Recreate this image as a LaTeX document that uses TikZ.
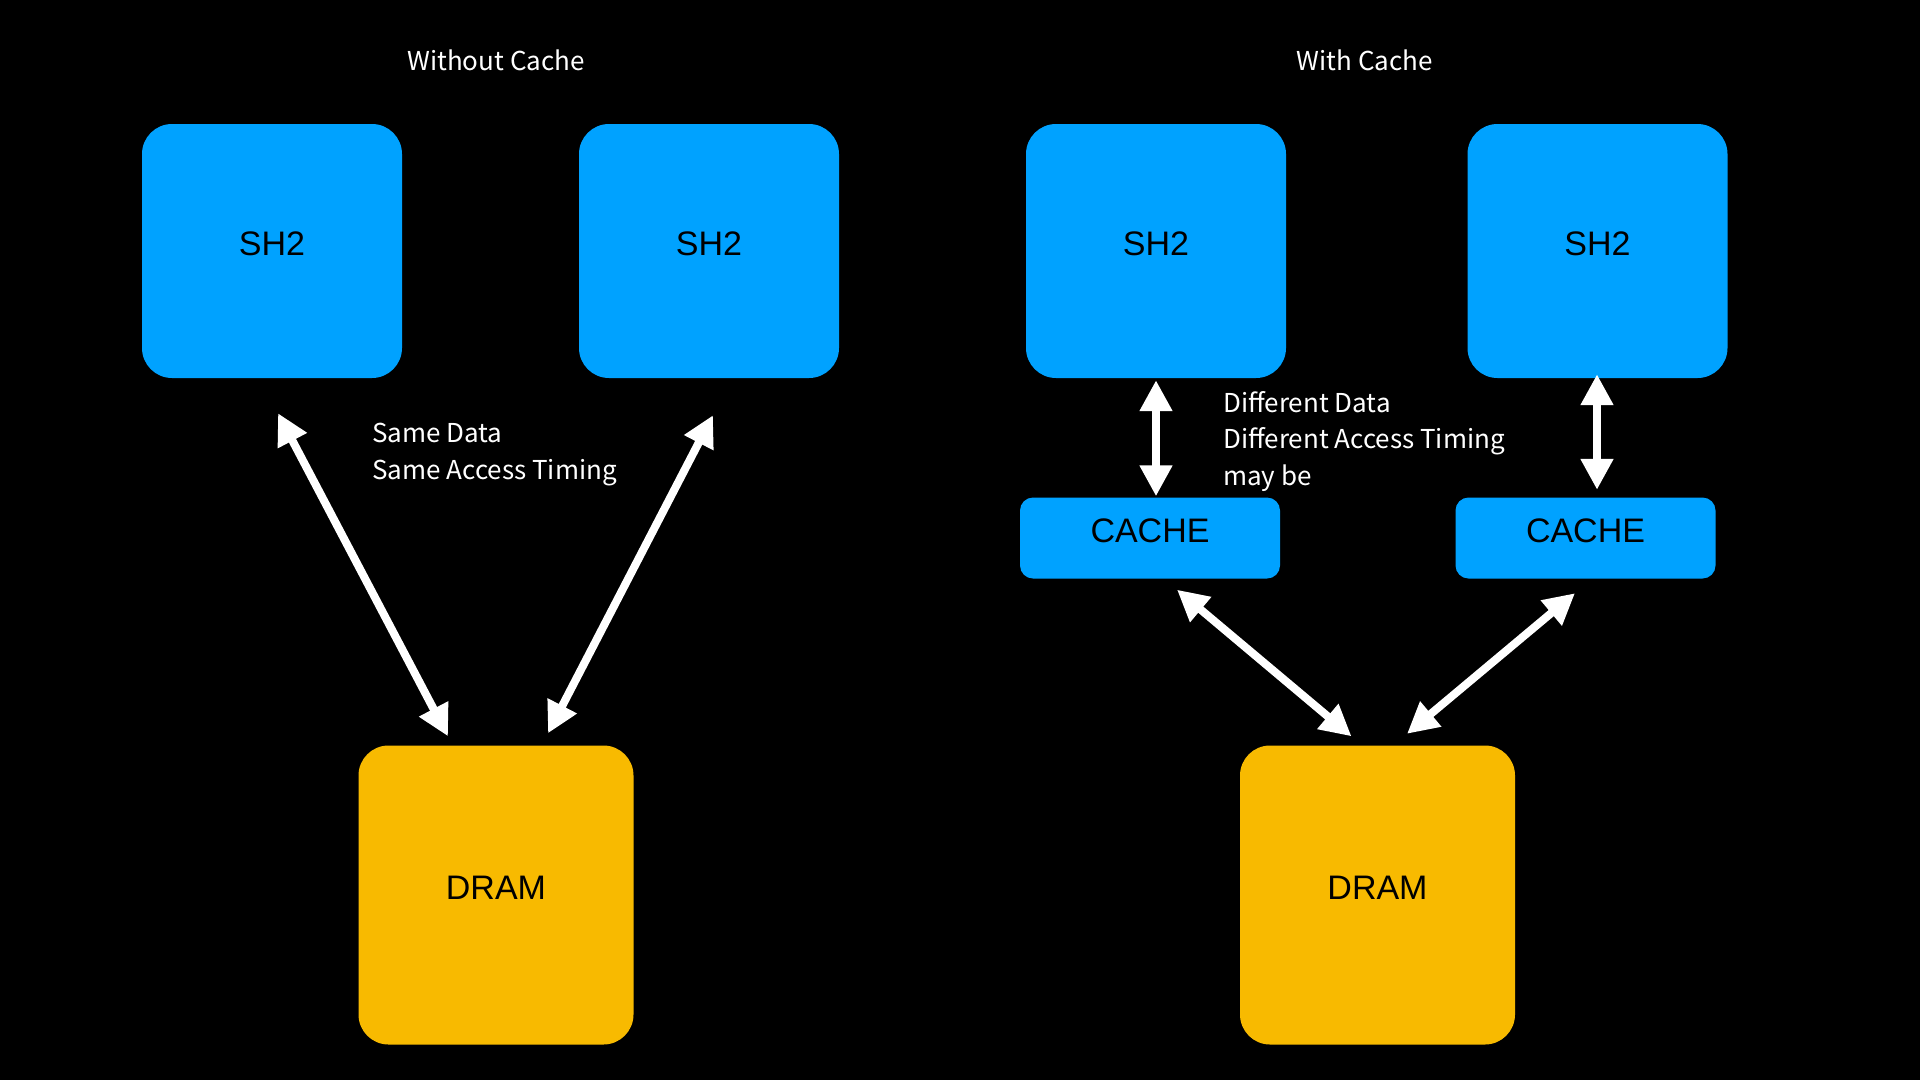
\documentclass[tikz,border=0pt]{standalone}
\usepackage{fontspec}
\setmainfont{Liberation Sans}
\newfontfamily\notefont{Noto Sans CJK JP}
\usepackage{tikz}
\usetikzlibrary{calc,arrows.meta}
\definecolor{chipblue}{RGB}{0,162,255}
\definecolor{dramgold}{RGB}{248,186,0}

\begin{document}
\begin{tikzpicture}[x=1pt,y=-1pt,
        box/.style={rounded corners=30pt, inner sep=0pt, text=black, font=\fontsize{34}{34}\selectfont, text depth=15pt},
        cpu/.style={box, fill=chipblue, minimum width=260pt, minimum height=254pt},
        cachebox/.style={box, fill=chipblue, minimum width=260pt, minimum height=81pt, rounded corners=13pt},
        drambox/.style={box, fill=dramgold, minimum width=275pt, minimum height=299pt},
        title/.style={text=white, font=\notefont\fontsize{26}{26}\selectfont},
        note/.style={text=white, font=\notefont\fontsize{26}{36.5}\selectfont, inner sep=0pt, align=left, anchor=base west},
        link/.style={white, line width=8pt, {Triangle[length=31pt,width=31pt]}-{Triangle[length=31pt,width=31pt]}}]
        \fill[black] (0,0) rectangle (1920,1080);
        \node[title] (ttla) at (496,60) {Without Cache};
        \node[title] (ttlb) at (1365,60) {With Cache};
        \node[cpu] (sh2a) at (272,251) {SH2};
        \node[cpu] (sh2b) at (709,251) {SH2};
        \node[cpu] (sh2c) at (1156,251) {SH2};
        \node[cpu] (sh2d) at (1597.5,251) {SH2};
        \node[cachebox] (cachea) at (1150,538) {CACHE};
        \node[cachebox] (cacheb) at (1585.5,538) {CACHE};
        \node[drambox] (drama) at (496,895) {DRAM};
        \node[drambox] (dramb) at (1377.5,895) {DRAM};
        \node[note] (notea) at (372,479) {Same Data\\Same Access Timing};
        \node[note] (noteb) at (1223,485) {Different Data\\Different Access Timing\\may be};
        \draw[link] ($(sh2a.south)+(6,35)$) -- ($(drama.north)+(-48,-9)$);
        \draw[link] ($(sh2b.south)+(4,37)$) -- ($(drama.north)+(52,-12)$);
        \draw[link] ($(sh2c.south)+(0,2)$) -- ($(cachea.north)+(6,-1)$);
        \draw[link] ($(sh2d.south)+(-0.5,-4)$) -- ($(cacheb.north)+(11.5,-7.5)$);
        \draw[link] ($(cachea.south)+(27,11)$) -- ($(dramb.north)+(-26,-9)$);
        \draw[link] ($(cacheb.south)+(-10.5,14.5)$) -- ($(dramb.north)+(29.5,-11.5)$);
    \end{tikzpicture}
\end{document}
